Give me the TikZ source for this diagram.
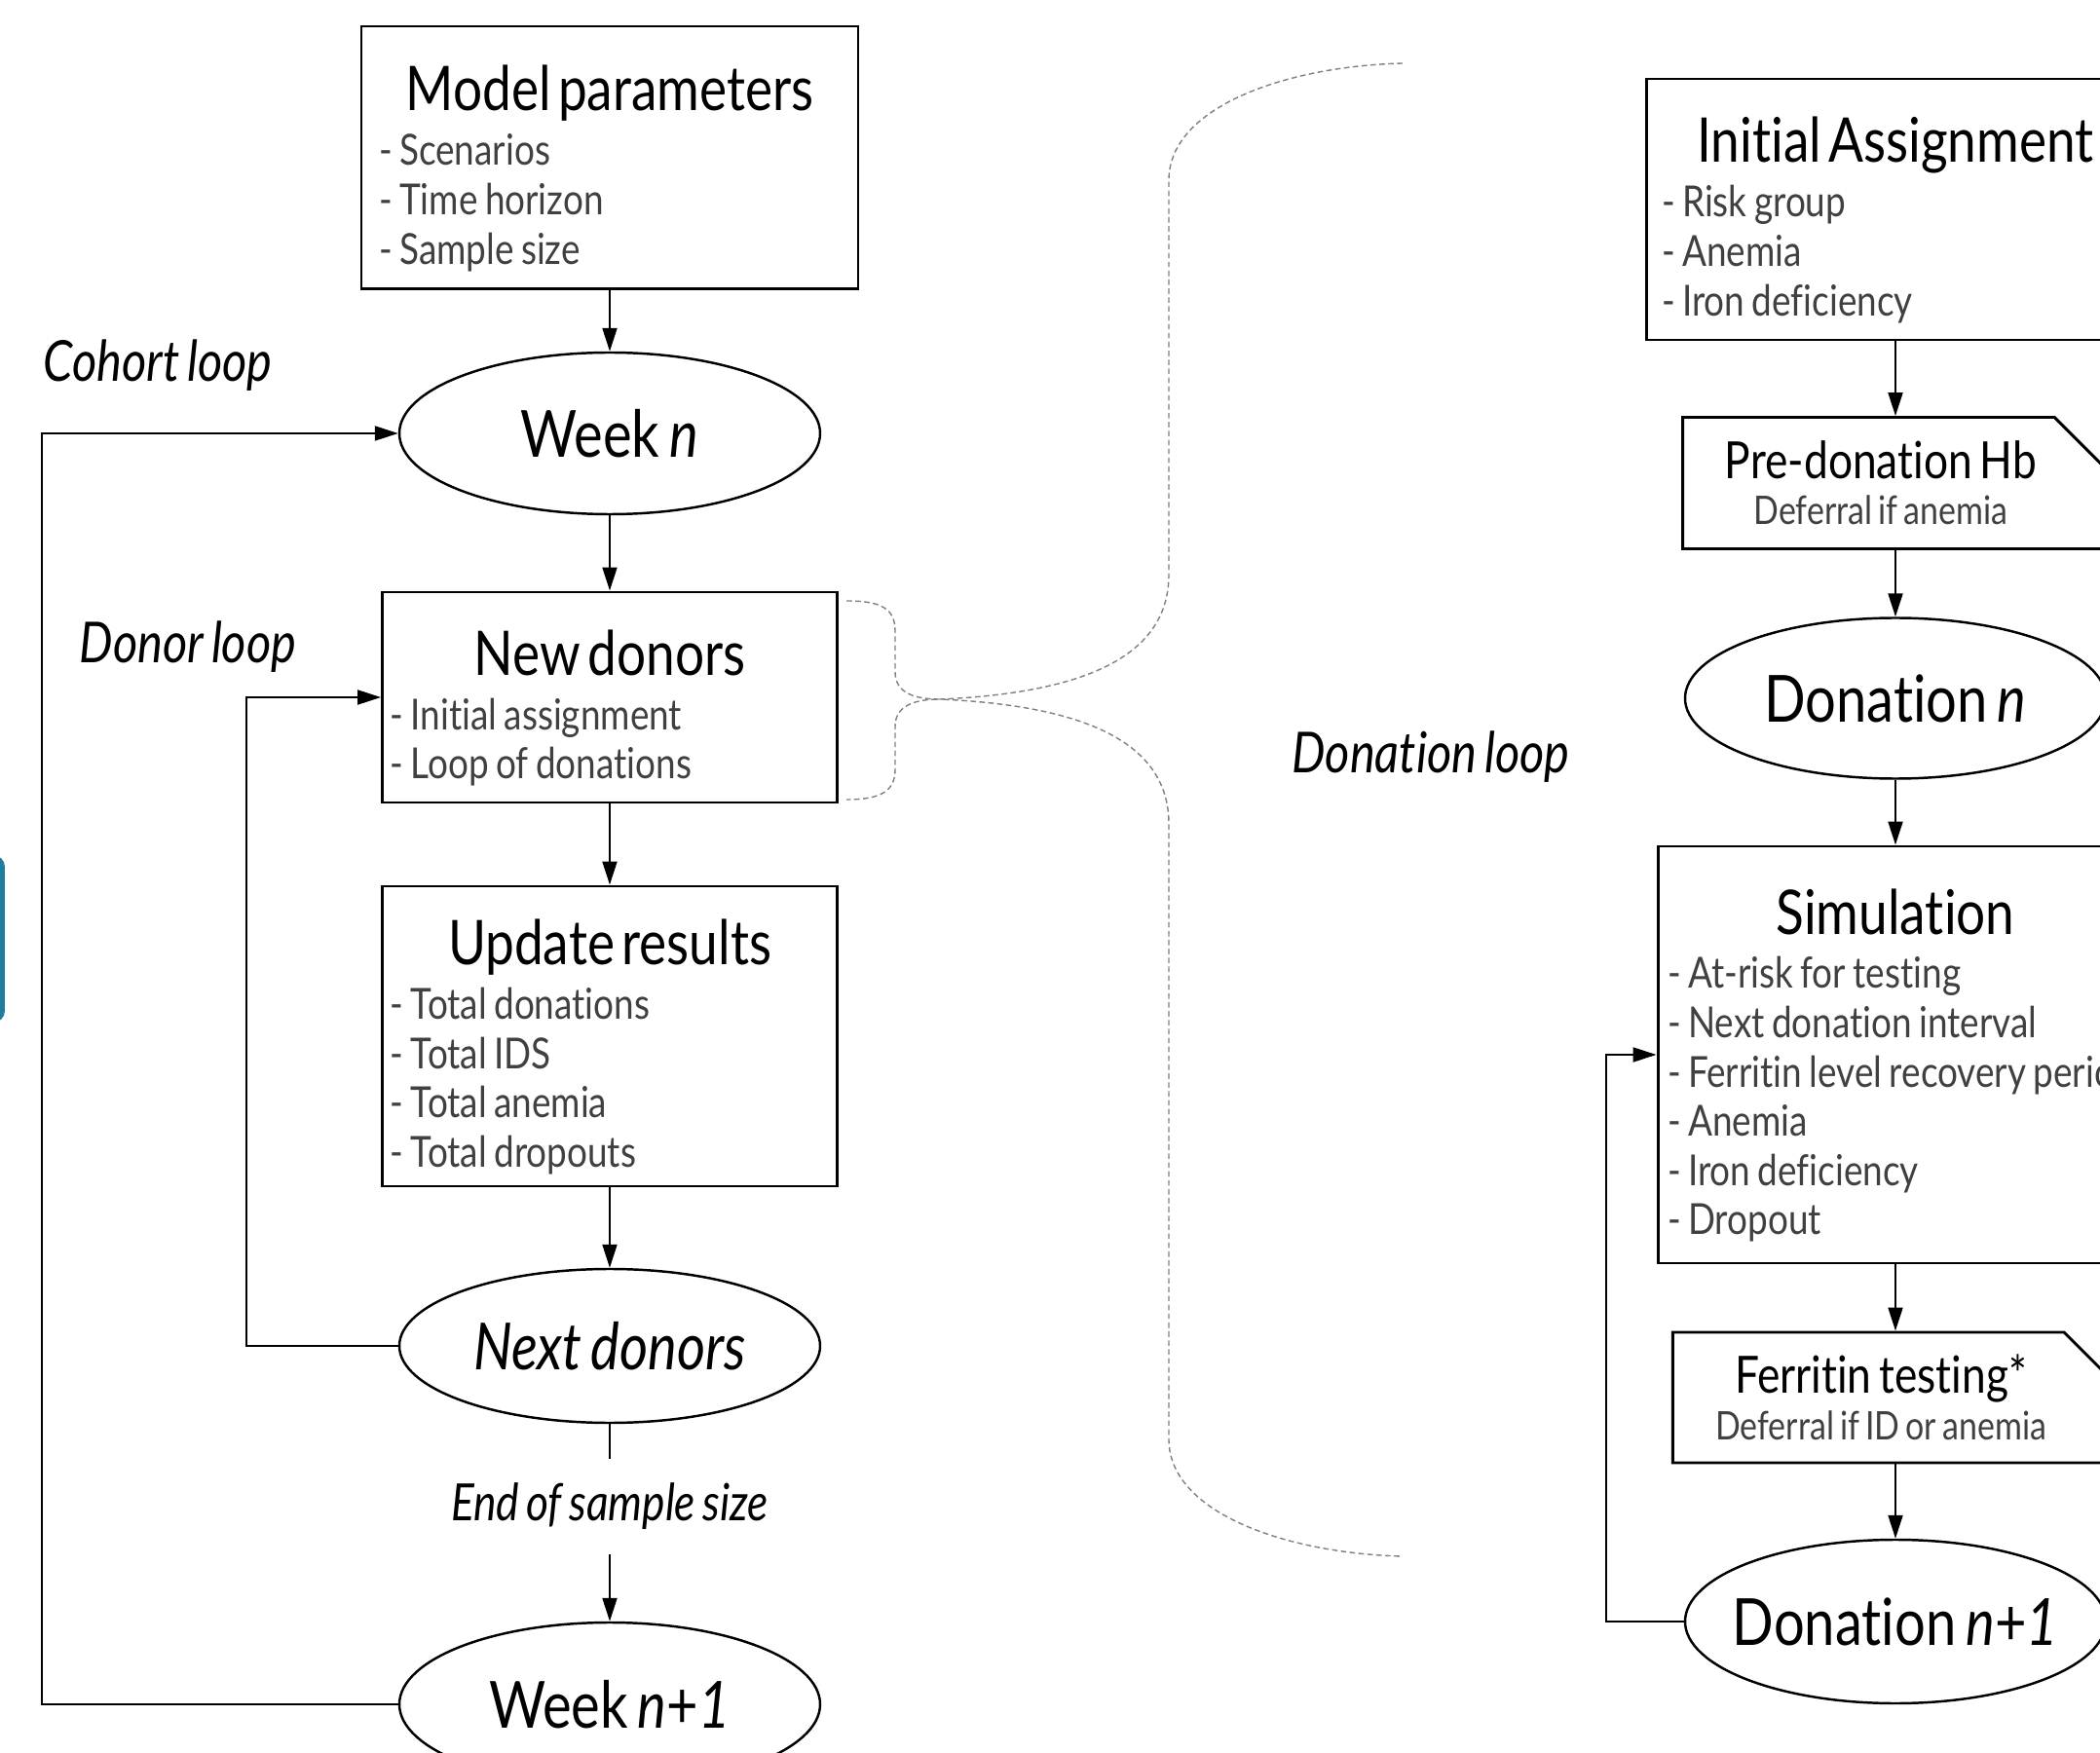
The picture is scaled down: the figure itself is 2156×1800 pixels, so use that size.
\documentclass[tikz,border=0pt]{standalone}
\usepackage{fontspec}
\setmainfont{Lato}[FakeStretch=0.84, WordSpace=0.7, Ligatures=NoCommon]
\usepackage{tikz}
\usetikzlibrary{arrows.meta, positioning, shapes.geometric, shapes.misc}

\definecolor{tealblue}{RGB}{31,125,158}
\setlength{\parindent}{0pt}
\newcommand{\ttlfont}{\fontsize{18}{21}\selectfont}
\newcommand{\itemfont}{\fontsize{12.5}{14.4}\selectfont}
\newcommand{\cutfont}{\fontsize{15}{17}\selectfont}
\newcommand{\boxtitle}[1]{\spaceskip=0.17em\relax
    \hbox to\hsize{\hss\color{black}\ttlfont #1\hss}\vskip1.5pt}

\begin{document}
\begin{tikzpicture}[
    x=0.1mm, y=-0.1mm,
    box/.style={
        rectangle, draw=black, line width=0.85pt,
        align=left, font=\itemfont, text=black!75,
        execute at begin node={\vskip1.8mm}
    },
    cutbox/.style={
        chamfered rectangle, chamfered rectangle corners=north east,
        chamfered rectangle xsep=4.7mm,
        draw=black, line width=0.85pt, inner sep=0pt,
        minimum width=43.2mm, align=center,
        font=\fontsize{11.5}{13.5}\selectfont, text=black!75
    },
    oval/.style={
        ellipse, draw=black, line width=0.7pt,
        minimum width=43.2mm, minimum height=16.6mm,
        inner xsep=-1.5mm, inner ysep=0pt,
        font=\fontsize{19}{22}\selectfont
    },
    looplabel/.style={
        inner sep=0pt, font=\fontsize{16.5}{19}\selectfont\itshape
    },
    arrow/.style={-{Triangle[length=2.4mm, width=1.5mm]}, line width=0.6pt},
    brace/.style={gray, line width=0.4pt, dash pattern=on 1.6pt off 1pt}
]
\path[use as bounding box, clip] (0,0) rectangle (2156,1800);

% --- edge of the neighbouring panel ---
\fill[tealblue, rounded corners=1.2mm] (-40,878) rectangle (5,1050);

% --- Loop labels ---
\node[looplabel] (cohortlbl) at (162,375) {Cohort~loop};
\node[looplabel] (donorlbl) at (193,664) {Donor~loop};
\node[looplabel] (donationlbl) at (1469,777) {Donation~loop};

% --- LEFT COLUMN ---
\node[box, text width=47.4mm, inner xsep=1.8mm, minimum height=27mm] (params) at (626,162)
    {\boxtitle{Model parameters}
     - Scenarios\\ - Time horizon\\ - Sample size};
\node[oval] (weekn) at (626,445) {Week \textit{n}};
\node[box, text width=45.1mm, inner xsep=0.8mm, minimum height=21.6mm] (newdonors) at (626,716)
    {\boxtitle{New donors}
     - Initial assignment\\ - Loop of donations};
\node[box, text width=45.1mm, inner xsep=0.8mm, minimum height=30.8mm] (update) at (626,1064)
    {\boxtitle{Update results}
     - Total donations\\ - Total IDS\\ - Total anemia\\ - Total dropouts};
\node[oval, minimum height=15.8mm] (nextdonors) at (626,1382) {\textit{Next donors}};
\node[looplabel, minimum height=9.6mm, font=\fontsize{15}{18}\selectfont\itshape] (endsize) at (626,1547)
    {End of sample size};
\node[oval, minimum height=16.8mm] (weekn1) at (626,1750) {Week \textit{n}+\textit{1}};

\draw[arrow] (params.south) -- (weekn.north);
\draw[arrow] (weekn.south) -- (newdonors.north);
\draw[arrow] (newdonors.south) -- (update.north);
\draw[arrow] (update.south) -- (nextdonors.north);
\draw[line width=0.6pt] (nextdonors.south) -- (endsize.north);
\draw[arrow] (endsize.south) -- (weekn1.north);

% loops back
\draw[arrow] (weekn1.west) -- ++(-366,0) |- (weekn.west);
\draw[arrow] (nextdonors.west) -- ++(-156,0) |- (newdonors.west);

% --- RIGHT COLUMN ---
\node[box, text width=48mm, inner xsep=1.6mm, minimum height=26.8mm] (init) at (1946,215)
    {\boxtitle{Initial Assignment}
     - Risk group\\ - Anemia\\ - Iron deficiency};
\node[cutbox, minimum height=13.5mm] (predon) at (1946,496)
    {{\cutfont\color{black}Pre-donation Hb}\hspace*{3mm}\\Deferral if anemia\hspace*{3mm}};
\node[oval, minimum height=16.5mm] (donn) at (1946,717) {Donation \textit{n}};
\node[box, text width=46.8mm, inner xsep=1mm, minimum height=42.8mm] (sim) at (1946,1083)
    {\boxtitle{Simulation}
     - At-risk for testing\\ - Next donation interval\\ \mbox{- Ferritin level recovery period}\\
     - Anemia\\ - Iron deficiency\\ - Dropout};
\node[cutbox, minimum height=13.4mm] (ferr) at (1946,1435)
    {{\cutfont\color{black}Ferritin testing*}\hspace*{3mm}\\Deferral if ID or anemia\hspace*{3mm}};
\node[oval, minimum height=16.8mm] (donn1) at (1946,1665) {Donation \textit{n}+\textit{1}};

\draw[arrow] (init.south) -- (predon.north);
\draw[arrow] (predon.south) -- (donn.north);
\draw[arrow] (donn.south) -- (sim.north);
\draw[arrow] (sim.south) -- (ferr.north);
\draw[arrow] (ferr.south) -- (donn1.north);
\draw[arrow] (donn1.west) -- ++(-80,0) |- (sim.west);

% --- Dashed braces ---
\coordinate (tip) at (965,718);
\draw[brace] (869,617) .. controls (905,617) and (919,625) .. (919,648) -- (919,690)
    .. controls (919,712) and (940,718) .. (tip)
    .. controls (940,718) and (919,724) .. (919,746) -- (919,790)
    .. controls (919,812) and (905,821) .. (869,821);
\draw[brace] (1440,65) .. controls (1320,68) and (1200,110) .. (1200,185) -- (1200,590)
    .. controls (1200,680) and (1100,712) .. (tip)
    .. controls (1100,724) and (1200,756) .. (1200,846) -- (1200,1478)
    .. controls (1200,1553) and (1320,1595) .. (1440,1598);

\end{tikzpicture}
\end{document}
